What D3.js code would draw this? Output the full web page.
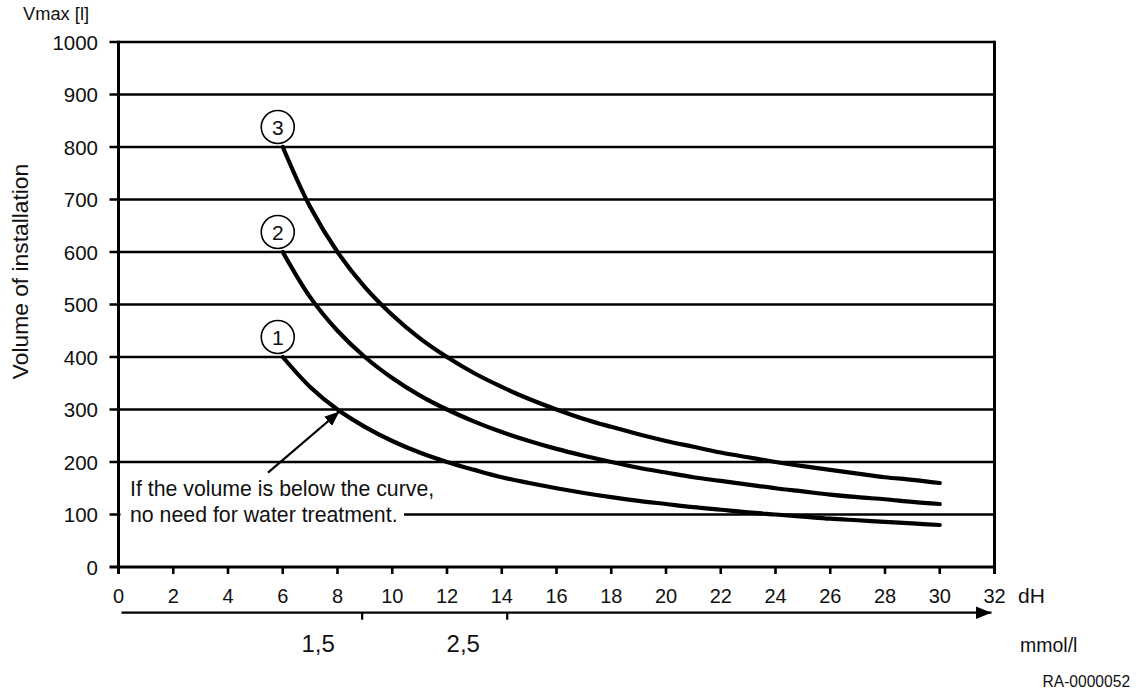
<!DOCTYPE html>
<html>
<head>
<meta charset="utf-8">
<script src="https://cdn.jsdelivr.net/npm/d3@7"></script>
<style>
  html, body { margin: 0; padding: 0; background: #fff; }
  svg { display: block; }
  text { font-family: "Liberation Sans", Arial, Helvetica, sans-serif; fill: #111; }
</style>
</head>
<body>
<svg id="chart" width="1141" height="696"></svg>
<script>
// ---- data ----
const hardness = [6, 7, 8, 9, 10, 11, 12, 13, 14, 15, 16, 17, 18, 19, 20, 21, 22, 23, 24, 25, 26, 27, 28, 29, 30];
const curve1 = [400, 343, 300, 267, 240, 218, 200, 185, 171, 160, 150, 141, 133, 126, 120, 114, 109, 104, 100, 96, 92, 89, 86, 83, 80];
const curve2 = [600, 514, 450, 400, 360, 327, 300, 277, 257, 240, 225, 212, 200, 189, 180, 171, 164, 157, 150, 144, 138, 133, 129, 124, 120];
const curve3 = [800, 686, 600, 533, 480, 436, 400, 369, 343, 320, 300, 282, 267, 253, 240, 229, 218, 209, 200, 192, 185, 178, 171, 166, 160];
const curveLabels = ["1", "2", "3"];
const xTickValues = [0, 2, 4, 6, 8, 10, 12, 14, 16, 18, 20, 22, 24, 26, 28, 30, 32];
const yTickValues = [0, 100, 200, 300, 400, 500, 600, 700, 800, 900, 1000];
const mmolTickValues = [1.5, 2.5];
const mmolTickLabels = ["1,5", "2,5"];
const mmolAtHardness = [8.9, 14.2];   // where the mmol ticks sit on the dH axis
const annotationLines = ["If the volume is below the curve,", "no need for water treatment."];
const annotationTarget = [8, 300];     // arrow points to curve 1 at (8 dH, 300 l)

// ---- scales ----
const svg = d3.select("#chart");
const x = d3.scaleLinear().domain([0, 32]).range([118.5, 994.5]);
const y = d3.scaleLinear().domain([0, 1000]).range([567, 42]);
const xm = d3.scaleLinear().domain(mmolTickValues).range(mmolAtHardness.map(x));

// ---- grid lines ----
svg.append("g").selectAll("line").data(yTickValues.filter(v => v > 0)).join("line")
  .attr("x1", x(0) - 9).attr("x2", x(32))
  .attr("y1", d => y(d)).attr("y2", d => y(d))
  .attr("stroke", "#000").attr("stroke-width", 2.6);

// bottom axis line + tick at 0
svg.append("line").attr("x1", x(0) - 9).attr("x2", x(32)).attr("y1", y(0)).attr("y2", y(0))
  .attr("stroke", "#000").attr("stroke-width", 3);

// left axis
svg.append("line").attr("x1", x(0)).attr("x2", x(0)).attr("y1", y(1000) - 1.3).attr("y2", y(0) + 7)
  .attr("stroke", "#000").attr("stroke-width", 3);
// right border
svg.append("line").attr("x1", x(32)).attr("x2", x(32)).attr("y1", y(1000) - 1.3).attr("y2", y(0) + 7)
  .attr("stroke", "#000").attr("stroke-width", 3);

// x ticks
svg.append("g").selectAll("line").data(xTickValues).join("line")
  .attr("x1", d => x(d)).attr("x2", d => x(d))
  .attr("y1", y(0)).attr("y2", y(0) + 7)
  .attr("stroke", "#000").attr("stroke-width", 2.6);

// x tick labels
svg.append("g").selectAll("text").data(xTickValues).join("text")
  .attr("x", d => x(d)).attr("y", y(0) + 36)
  .attr("text-anchor", "middle").attr("font-size", 20)
  .text(d => d);

// y tick labels
svg.append("g").selectAll("text").data(yTickValues).join("text")
  .attr("x", 98).attr("y", d => y(d) + 7.5)
  .attr("text-anchor", "end").attr("font-size", 20.5)
  .text(d => d);

// axis titles
svg.append("text").attr("x", 23).attr("y", 20).attr("font-size", 18.3).text("Vmax [l]");
svg.append("text").attr("transform", "translate(27.5,271.5) rotate(-90)")
  .attr("text-anchor", "middle").attr("font-size", 22.8).text("Volume of installation");
svg.append("text").attr("x", 1018).attr("y", 603).attr("font-size", 21).text("dH");
svg.append("text").attr("x", 1020).attr("y", 651.5).attr("font-size", 19.5).text("mmol/l");
svg.append("text").attr("x", 1042.5).attr("y", 686.5).attr("font-size", 15.6).text("RA-0000052");

// ---- mmol arrow axis ----
const defs = svg.append("defs");
defs.append("marker").attr("id", "headBig").attr("viewBox", "0 0 16 13")
  .attr("refX", 16).attr("refY", 6.5).attr("markerWidth", 16).attr("markerHeight", 13)
  .attr("markerUnits", "userSpaceOnUse").attr("orient", "auto")
  .append("path").attr("d", "M0,0 L16,6.5 L0,13 Z").attr("fill", "#000");
defs.append("marker").attr("id", "headSmall").attr("viewBox", "0 0 15 12")
  .attr("refX", 15).attr("refY", 6).attr("markerWidth", 15).attr("markerHeight", 12)
  .attr("markerUnits", "userSpaceOnUse").attr("orient", "auto")
  .append("path").attr("d", "M0,0 L15,6 L0,12 Z").attr("fill", "#000");

const mmolY = 612.7;
svg.append("line").attr("x1", x(0) + 3).attr("x2", x(32) - 3).attr("y1", mmolY).attr("y2", mmolY)
  .attr("stroke", "#000").attr("stroke-width", 2.3).attr("marker-end", "url(#headBig)");
svg.append("g").selectAll("line").data(mmolTickValues).join("line")
  .attr("x1", d => xm(d)).attr("x2", d => xm(d)).attr("y1", mmolY).attr("y2", mmolY + 7)
  .attr("stroke", "#000").attr("stroke-width", 2.3);
svg.append("g").selectAll("text").data(mmolTickValues).join("text")
  .attr("x", d => xm(d) - 44).attr("y", 651.5)
  .attr("text-anchor", "middle").attr("font-size", 24)
  .text((d, i) => mmolTickLabels[i]);

// ---- annotation background (breaks the 100 grid line) ----
svg.append("rect").attr("x", x(0) + 2).attr("y", 478).attr("width", 404 - x(0) - 2).attr("height", 50)
  .attr("fill", "#fff");
svg.append("g").selectAll("text").data(annotationLines).join("text")
  .attr("x", 130).attr("y", (d, i) => 496 + i * 25.7)
  .attr("font-size", 21.3).text(d => d);

// ---- curves ----
const series = [curve1, curve2, curve3];
const line = d3.line().x(d => x(d[0])).y(d => y(d[1])).curve(d3.curveCatmullRom.alpha(0.5));
svg.append("g").selectAll("path").data(series).join("path")
  .attr("d", s => line(hardness.map((h, i) => [h, s[i]])))
  .attr("fill", "none").attr("stroke", "#000").attr("stroke-width", 4.2)
  .attr("stroke-linecap", "round").attr("stroke-linejoin", "round");

// curve number circles
const labels = svg.append("g").selectAll("g").data(series).join("g")
  .attr("transform", s => `translate(${x(hardness[0]) - 5},${y(s[0]) - 20})`);
labels.append("circle").attr("r", 16.5).attr("fill", "#fff").attr("stroke", "#000").attr("stroke-width", 1.6);
labels.append("text").attr("text-anchor", "middle").attr("y", 7.5).attr("font-size", 21)
  .text((d, i) => curveLabels[i]);

// annotation arrow
svg.append("line").attr("x1", 268).attr("y1", 472.7)
  .attr("x2", x(annotationTarget[0]) + 2).attr("y2", y(annotationTarget[1]) + 2)
  .attr("stroke", "#000").attr("stroke-width", 2.2).attr("marker-end", "url(#headSmall)");
</script>
</body>
</html>
